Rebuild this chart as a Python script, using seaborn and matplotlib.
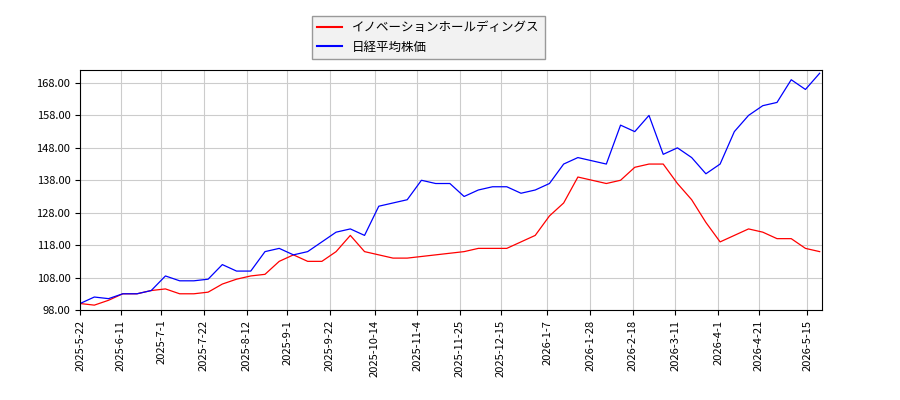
import matplotlib
matplotlib.use("Agg")
import matplotlib.pyplot as plt
import seaborn as sns
import pandas as pd
import numpy as np
from matplotlib.lines import Line2D

plt.rcParams['font.family'] = ['Noto Sans CJK JP', 'DejaVu Sans']

dates = pd.date_range("2025-05-22", periods=53, freq="7D")
nikkei = [100,102,101.5,103,103,104,108.5,107,107,107.5,112,110,110,116,117,115,116,119,122,123,121,130,131,132,138,137,137,133,135,136,136,134,135,137,143,145,144,143,155,153,158,146,148,145,140,143,153,158,161,162,169,166,171]
company = [100,99.5,101,103,103,104,104.5,103,103,103.5,106,107.5,108.5,109,113,115,113,113,116,121,116,115,114,114,114.5,115,115.5,116,117,117,117,119,121,127,131,139,138,137,138,142,143,143,137,132,125,119,121,123,122,120,120,117,116]
labels = ["イノベーションホールディングス", "日経平均株価"]
tick_dates = ["2025-05-22","2025-06-11","2025-07-01","2025-07-22","2025-08-12","2025-09-01",
              "2025-09-22","2025-10-14","2025-11-04","2025-11-25","2025-12-15","2026-01-07",
              "2026-01-28","2026-02-18","2026-03-11","2026-04-01","2026-04-21","2026-05-15"]

df = pd.DataFrame({"date": list(dates)*2, "value": company+nikkei,
                   "series": [labels[0]]*53 + [labels[1]]*53})

fig = plt.figure(figsize=(9, 4), dpi=100)
ax = fig.add_axes([0.089, 0.225, 0.824, 0.6])
sns.lineplot(data=df, x="date", y="value", hue="series", palette=["red", "blue"], linewidth=0.9, ax=ax, legend=False)
ax.set_xlim(pd.Timestamp("2025-05-22"), pd.Timestamp("2026-05-22"))
ax.set_ylim(98, 172)
yt = np.arange(98, 170, 10)
ax.set_yticks(yt)
ax.set_yticklabels([f"{v:.2f}" for v in yt], fontsize=8)
xt = pd.to_datetime(tick_dates)
ax.set_xticks(xt)
ax.set_xticklabels([f"{d.year}-{d.month}-{d.day}" for d in xt], rotation=90, fontsize=8)
ax.set_xlabel(""); ax.set_ylabel("")
ax.grid(True, color="#cccccc", linewidth=0.8)
h = [Line2D([], [], color="red"), Line2D([], [], color="blue")]
leg = fig.legend(h, labels, loc="upper left", bbox_to_anchor=(0.34, 0.975), fontsize=9, fancybox=False,
                 facecolor="#f2f2f2", edgecolor="#999999", framealpha=1)
fig.savefig("out.png")
